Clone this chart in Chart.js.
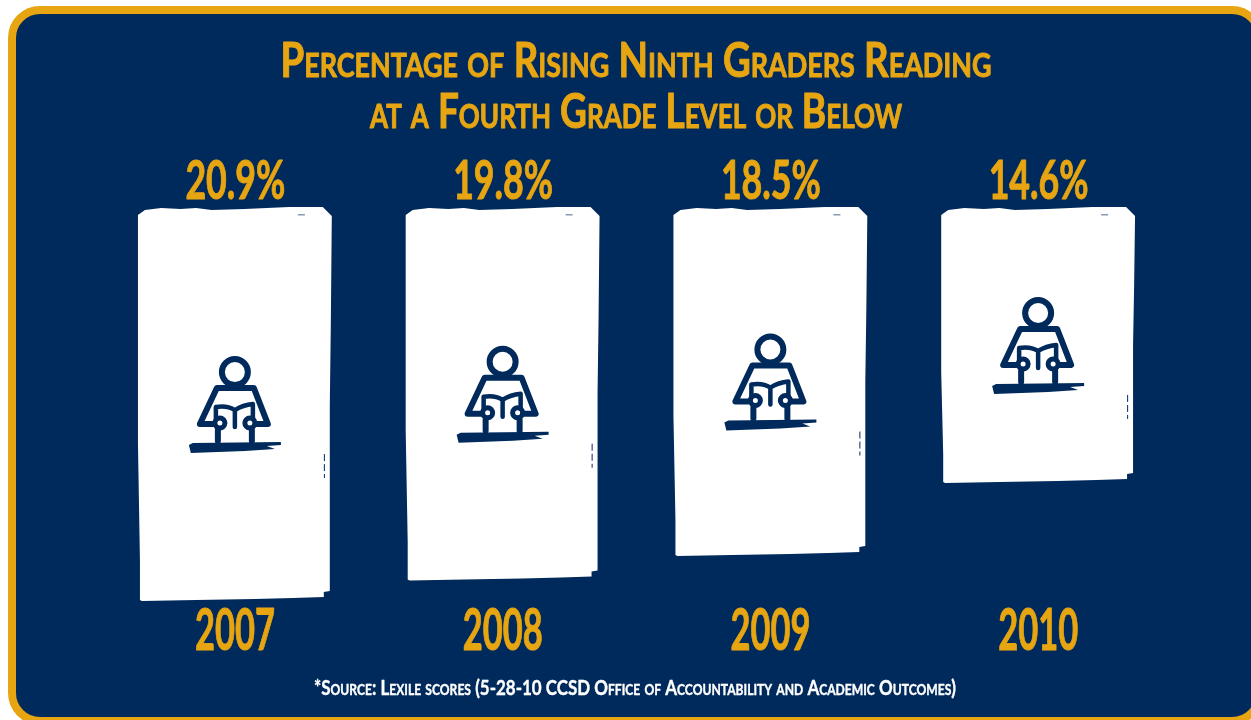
<!DOCTYPE html>
<html>
<head>
<meta charset="utf-8">
<title>Rising Ninth Graders Reading</title>
<style>
    body { margin: 0; background: #fff; overflow: hidden; }
    #panel {
        position: absolute; left: 8px; top: 6px; width: 1240px; height: 703px;
        background: #002a5c; border: 8px solid #e6a511; border-radius: 32px;
    }
    #myChart { position: absolute; left: 0; top: 0; }
</style>
<script src="https://cdn.jsdelivr.net/npm/chart.js@4/dist/chart.umd.min.js"></script>
</head>
<body>
<div id="panel"></div>
<canvas id="myChart" width="1251" height="720"></canvas>
<script>
var years = ['2007', '2008', '2009', '2010'];
var percentages = [20.9, 19.8, 18.5, 14.6];
var titleLines = ['Percentage of Rising Ninth Graders Reading', 'at a Fourth Grade Level or Below'];
var sourceNote = '*Source: Lexile scores (5-28-10 CCSD Office of Accountability and Academic Outcomes)';

var NAVY = '#002a5c';
var GOLD = '#e6a511';
var FONT = 'Lato, sans-serif';

// rough outline of a bar: side fraction x, fraction y, then nudge in px
var roughEdge = [
    [0, 0, 7, 2], [.12, 0, 0, 0], [.22, 0, 0, 1], [.3, 0, 0, 0], [.38, 0, 0, 2], [.55, 0, 0, 1], [.78, 0, 0, -1],
    [1, 0, -9, -1], [1, 0, 0, 8], [1, .3, -1, 0], [1, .5, -2, 0], [1, .75, -2, 0], [1, 1, -2, -9],
    [1, 1, -8, -8], [1, 1, -8, -3], [.8, 1, 0, -2], [.6, 1, 0, -1], [.3, 1, 0, 0], [.02, 1, 0, 1],
    [0, 1, 2, 0], [0, .9, 2, 0], [0, .6, 0, 0], [0, .2, 0, 0], [0, 0, 0, 7]
];

// the lettering in the picture is tall and narrow, so squeeze it to a set width
function drawLabel(ctx, text, x, baseline, font, width, color, thicken) {
    ctx.save();
    ctx.font = font;
    ctx.fillStyle = color;
    ctx.strokeStyle = color;
    ctx.lineJoin = 'round';
    ctx.textAlign = 'center';
    ctx.textBaseline = 'alphabetic';
    ctx.translate(x, baseline);
    ctx.scale(width / ctx.measureText(text).width, 1);
    ctx.lineWidth = thicken;
    ctx.strokeText(text, 0, 0);
    ctx.fillText(text, 0, 0);
    ctx.restore();
}

function drawRoughBar(ctx, bar) {
    var left = bar.x - bar.width / 2;
    var top = bar.base;
    var h = bar.y - bar.base;

    ctx.fillStyle = NAVY;
    ctx.fillRect(left - 2, top - 3, bar.width + 4, h + 6);

    ctx.fillStyle = '#fff';
    ctx.beginPath();
    roughEdge.forEach(function (p, i) {
        var px = left + p[0] * bar.width + p[2];
        var py = top + p[1] * h + p[3];
        if (i === 0) ctx.moveTo(px, py); else ctx.lineTo(px, py);
    });
    ctx.closePath();
    ctx.fill();

    // little specks left over in the scan
    ctx.fillStyle = '#8a9ab3';
    ctx.fillRect(bar.x + 63, top + 6, 7, 1.5);
    ctx.strokeStyle = NAVY;
    ctx.lineWidth = 1;
    ctx.setLineDash([7, 3]);
    ctx.beginPath();
    ctx.moveTo(bar.x + 89.5, top + h / 2 + 50);
    ctx.lineTo(bar.x + 89.5, top + h / 2 + 74);
    ctx.stroke();
    ctx.setLineDash([]);
}

function drawReader(ctx, cx, cy) {
    ctx.save();
    ctx.translate(cx, cy);
    ctx.strokeStyle = NAVY;
    ctx.fillStyle = NAVY;
    ctx.lineJoin = 'round';
    ctx.lineCap = 'round';
    ctx.lineWidth = 6;

    ctx.beginPath();
    ctx.arc(0, -33, 13, 0, Math.PI * 2);
    ctx.stroke();

    // shoulders and arms
    ctx.beginPath();
    ctx.moveTo(-22, 19);
    ctx.lineTo(-35, 19);
    ctx.lineTo(-18, -17);
    ctx.lineTo(19, -17);
    ctx.lineTo(33, 19);
    ctx.lineTo(22, 19);
    ctx.stroke();

    // book
    ctx.lineWidth = 4.5;
    ctx.beginPath();
    ctx.moveTo(-19, 14);
    ctx.lineTo(-19, 2);
    ctx.quadraticCurveTo(-8, 0, 0, 5);
    ctx.quadraticCurveTo(8, 0, 18, -1);
    ctx.lineTo(18, 14);
    ctx.moveTo(0, 5);
    ctx.lineTo(0, 22);
    ctx.stroke();

    // hands
    ctx.lineWidth = 5;
    ctx.beginPath();
    ctx.arc(-15, 18, 5, 0, Math.PI * 2);
    ctx.moveTo(20, 18);
    ctx.arc(15, 18, 5, 0, Math.PI * 2);
    ctx.stroke();

    // legs and table
    ctx.lineWidth = 6;
    ctx.beginPath();
    ctx.moveTo(-17, 25);
    ctx.lineTo(-17, 36);
    ctx.moveTo(17, 25);
    ctx.lineTo(17, 36);
    ctx.stroke();
    ctx.beginPath();
    ctx.moveTo(-46, 40);
    ctx.lineTo(-42, 38);
    ctx.lineTo(46, 37);
    ctx.lineTo(46, 40);
    ctx.lineTo(32, 41);
    ctx.lineTo(40, 44);
    ctx.lineTo(10, 46);
    ctx.lineTo(-44, 48);
    ctx.closePath();
    ctx.fill();
    ctx.restore();
}

var chartLettering = {
    id: 'chartLettering',
    afterDatasetsDraw: function (chart) {
        var ctx = chart.ctx;
        var meta = chart.getDatasetMeta(0);

        meta.data.forEach(function (bar, i) {
            drawRoughBar(ctx, bar);
            drawReader(ctx, bar.x, (bar.base + bar.y) / 2 + 1);
            drawLabel(ctx, percentages[i].toFixed(1) + '%', bar.x + 0.5, 199, 'bold 54px ' + FONT, 100, GOLD, 1);
            drawLabel(ctx, years[i], bar.x, 650, 'bold 58px ' + FONT, 80, GOLD, 1);
        });

        drawLabel(ctx, titleLines[0], 636, 77, 'small-caps bold 47px ' + FONT, 711, GOLD, 1);
        drawLabel(ctx, titleLines[1], 636, 128, 'small-caps bold 47px ' + FONT, 532, GOLD, 1);
        drawLabel(ctx, sourceNote, 635, 695, 'small-caps bold 21px ' + FONT, 642, '#fff', 0.4);
    }
};

new Chart(document.getElementById('myChart').getContext('2d'), {
    type: 'bar',
    data: {
        labels: years,
        datasets: [{
            data: percentages,
            backgroundColor: '#fff',
            borderWidth: 0,
            barPercentage: 0.724,
            categoryPercentage: 1
        }]
    },
    plugins: [chartLettering],
    options: {
        responsive: false,
        animation: false,
        layout: { padding: { left: 101, right: 79, top: 208, bottom: 110 } },
        plugins: {
            legend: { display: false },
            tooltip: { enabled: false }
        },
        scales: {
            x: {
                grid: { display: false },
                border: { display: false },
                ticks: { display: false }
            },
            y: {
                display: false,
                reverse: true,
                min: 0,
                max: 21
            }
        }
    }
});
</script>
</body>
</html>
